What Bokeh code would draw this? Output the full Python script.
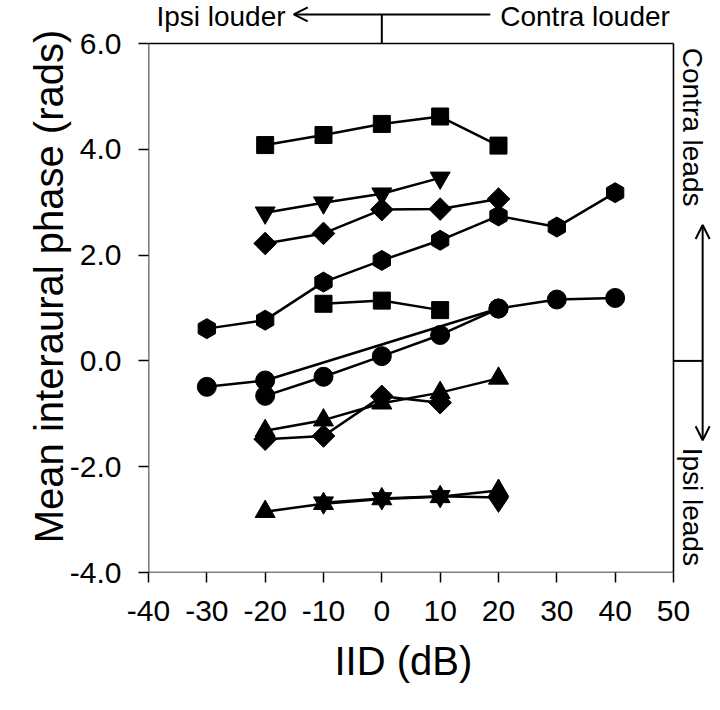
import numpy as np
from bokeh.plotting import figure
from bokeh.models import Range1d, Arrow, OpenHead, Label, FixedTicker, Title
from bokeh.embed import file_html
from bokeh.resources import INLINE

# ---- data (IID in dB, mean interaural phase in rads) ----
sq_hi_x = [-20, -10, 0, 10, 20]
sq_hi_y = [4.08, 4.27, 4.48, 4.62, 4.07]

inv_hi_x = [-20, -10, 0, 10]
inv_hi_y = [2.80, 2.99, 3.16, 3.46]

dia_hi_x = [-20, -10, 0, 10, 20]
dia_hi_y = [2.22, 2.41, 2.86, 2.87, 3.06]

hex_x = [-30, -20, -10, 0, 10, 20, 30, 40]
hex_y = [0.61, 0.77, 1.49, 1.90, 2.28, 2.74, 2.53, 3.18]

sq_lo_x = [-10, 0, 10]
sq_lo_y = [1.08, 1.14, 0.96]

circ_a_x = [-30, -20, 20, 30, 40]
circ_a_y = [-0.49, -0.37, 0.99, 1.16, 1.19]

circ_b_x = [-20, -10, 0, 10, 20]
circ_b_y = [-0.66, -0.30, 0.09, 0.49, 0.99]

tri_mid_x = [-20, -10, 0, 10, 20]
tri_mid_y = [-1.32, -1.12, -0.80, -0.60, -0.33]

dia_mid_x = [-20, -10, 0, 10]
dia_mid_y = [-1.48, -1.42, -0.67, -0.79]

tri_lo_x = [-20, -10, 0, 10, 20]
tri_lo_y = [-2.85, -2.70, -2.61, -2.57, -2.45]

inv_lo_x = [-10, 0, 10, 20]
inv_lo_y = [-2.68, -2.60, -2.56, -2.58]

x_ticks = [-40, -30, -20, -10, 0, 10, 20, 30, 40, 50]
y_ticks = [-4, -2, 0, 2, 4, 6]
x_tick_labels = {t: str(t) for t in x_ticks}
y_tick_labels = {t: f"{t:.1f}" for t in y_ticks}

FONT = "Liberation Sans"

x0, x1 = x_ticks[0], x_ticks[-1]
y0, y1 = y_ticks[0], y_ticks[-1]

# frame extends beyond the data box so that annotations above/right are drawn
p = figure(width=712, height=702, x_range=Range1d(x0, 56.69), y_range=Range1d(y0, 6.813),
           output_backend="svg", toolbar_location=None,
           min_border_left=148, min_border_right=0, min_border_top=0, min_border_bottom=130)
p.grid.visible = False
p.outline_line_color = None
p.background_fill_color = "white"
p.border_fill_color = "white"

p.xaxis.ticker = FixedTicker(ticks=x_ticks)
p.yaxis.ticker = FixedTicker(ticks=y_ticks)
p.xaxis.major_label_overrides = x_tick_labels
p.yaxis.major_label_overrides = y_tick_labels
for ax in (p.xaxis[0], p.yaxis[0]):
    ax.axis_line_color = None
    ax.major_tick_line_width = 1.5
    ax.major_tick_out = 10
    ax.major_tick_in = 0
    ax.minor_tick_line_color = None
    ax.major_label_text_font = FONT
    ax.major_label_text_font_size = "30px"
    ax.major_label_text_color = "black"
    ax.axis_label_text_font = FONT
    ax.axis_label_text_font_style = "normal"
    ax.axis_label_text_color = "black"
    ax.axis_label_text_font_size = "40px"

p.yaxis.axis_label = "Mean interaural phase (rads)"
p.xaxis.major_label_standoff = 18
p.yaxis.major_label_standoff = 17
p.yaxis.axis_label_standoff = -4

# x-axis title placed under the data box (not the extended frame)
p.add_layout(Title(text="IID (dB)", align="left", offset=186, text_font=FONT,
                   text_font_size="40px", text_font_style="normal",
                   text_color="black", standoff=26), "below")

# box spines
SW = 1.6
p.segment(x0=[x0, x1, x0, x0], y0=[y0, y0, y0, y1], x1=[x0, x1, x1, x1], y1=[y1, y1, y0, y1],
          line_color="black", line_width=SW)

LW = 2.5

def series(xs, ys, marker, size, angle=0.0):
    p.line(xs, ys, line_color="black", line_width=LW)
    p.scatter(xs, ys, marker=marker, size=size, angle=angle,
              fill_color="black", line_color="black")

series(sq_hi_x, sq_hi_y, "square", 17)
series(inv_hi_x, inv_hi_y, "inverted_triangle", 20)
series(dia_hi_x, dia_hi_y, "square", 16, np.pi / 4)
series(hex_x, hex_y, "hex", 20, np.pi / 2)
series(sq_lo_x, sq_lo_y, "square", 17)
series(circ_a_x, circ_a_y, "circle", 19)
series(circ_b_x, circ_b_y, "circle", 19)
series(tri_mid_x, tri_mid_y, "triangle", 20)
series(dia_mid_x, dia_mid_y, "square", 16, np.pi / 4)
series(tri_lo_x, tri_lo_y, "triangle", 20)
# bottom inverted-triangle series ends in a diamond marker at +20 dB
p.line(inv_lo_x, inv_lo_y, line_color="black", line_width=LW)
p.scatter(inv_lo_x[:-1], inv_lo_y[:-1], marker="inverted_triangle", size=20,
          fill_color="black", line_color="black")
p.scatter(inv_lo_x[-1:], inv_lo_y[-1:], marker="diamond", size=30,
          fill_color="black", line_color="black")

# ---- top annotation: Ipsi louder <-- | --- Contra louder ----
top_y = 6.55
text_y = 6.51
p.add_layout(Arrow(end=OpenHead(size=14, line_width=2, line_color="black"),
                   x_start=18.6, y_start=top_y, x_end=-15.1, y_end=top_y,
                   line_width=2, line_color="black"))
p.add_layout(Arrow(end=None, x_start=0, y_start=y1, x_end=0, y_end=top_y,
                   line_width=2, line_color="black"))
p.add_layout(Label(x=-16.5, y=text_y, text="Ipsi louder", text_align="right",
                   text_baseline="middle", text_font=FONT, text_font_size="28px",
                   text_color="black"))
p.add_layout(Label(x=20.3, y=text_y, text="Contra louder", text_align="left",
                   text_baseline="middle", text_font=FONT, text_font_size="28px",
                   text_color="black"))

# ---- right annotation: Contra leads / Ipsi leads ----
rx = 55.0
tx = 53.3
p.add_layout(Arrow(start=OpenHead(size=14, line_width=2, line_color="black"),
                   end=OpenHead(size=14, line_width=2, line_color="black"),
                   x_start=rx, y_start=-1.50, x_end=rx, y_end=2.57,
                   line_width=2, line_color="black"))
p.add_layout(Arrow(end=None, x_start=x1, y_start=0, x_end=rx, y_end=0,
                   line_width=2, line_color="black"))
p.add_layout(Label(x=tx, y=5.92, text="Contra leads", angle=-np.pi / 2,
                   text_align="left", text_baseline="middle", text_font=FONT,
                   text_font_size="28px", text_color="black"))
p.add_layout(Label(x=tx, y=-1.64, text="Ipsi leads", angle=-np.pi / 2,
                   text_align="left", text_baseline="middle", text_font=FONT,
                   text_font_size="28px", text_color="black"))

open("out.html", "w").write(file_html(p, INLINE))
